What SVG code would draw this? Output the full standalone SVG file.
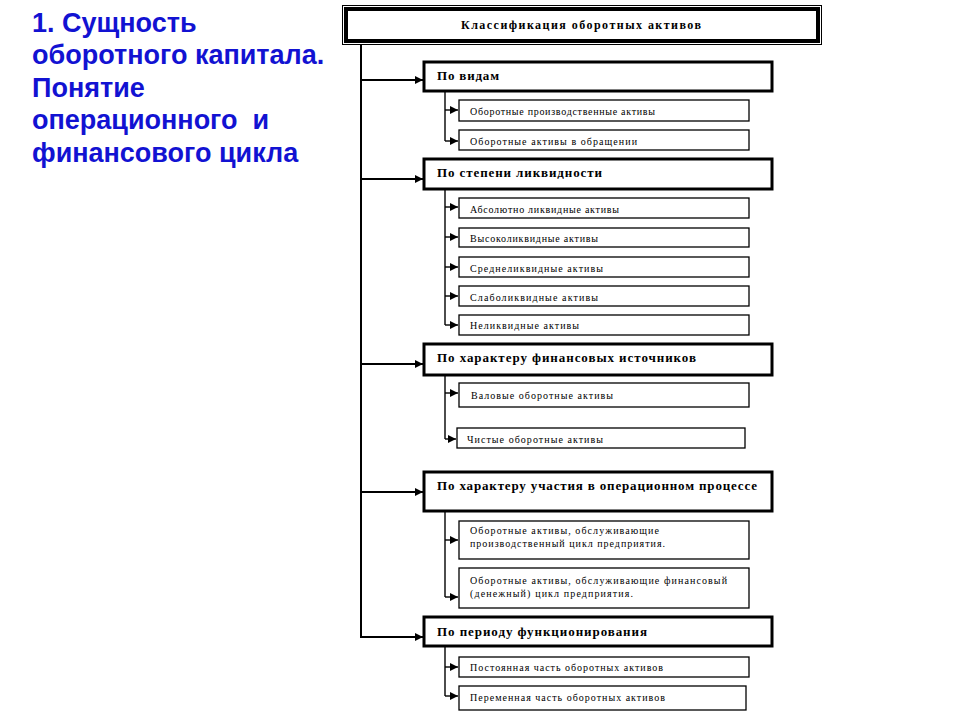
<svg xmlns="http://www.w3.org/2000/svg" width="960" height="720" viewBox="0 0 960 720">
<defs>
<style>
.title{font-family:"Liberation Sans",Arial,sans-serif;font-weight:bold;font-size:27px;fill:#1212D2;white-space:pre}
.hdr{font-family:"Liberation Serif","Times New Roman",serif;font-weight:bold;font-size:12px;fill:#000}
.cat{font-family:"Liberation Serif","Times New Roman",serif;font-weight:bold;font-size:13px;fill:#000}
.sub{font-family:"Liberation Serif","Times New Roman",serif;font-size:10px;fill:#000}
.catbox{fill:#fff;stroke:#000;stroke-width:3}
.subbox{fill:#fff;stroke:#000;stroke-width:1.3}
.trunk{fill:none;stroke:#000;stroke-width:2}
.st{fill:none;stroke:#000;stroke-width:1.4}
</style>
<marker id="ah" viewBox="0 0 10 10" refX="10" refY="5" markerWidth="9" markerHeight="8" markerUnits="userSpaceOnUse" orient="auto"><path d="M0,0 L10,5 L0,10 Z" fill="#000"/></marker>
<marker id="as" viewBox="0 0 10 10" refX="10" refY="5" markerWidth="8" markerHeight="8" markerUnits="userSpaceOnUse" orient="auto"><path d="M0,0 L10,5 L0,10 Z" fill="#000"/></marker>
</defs>
<rect width="960" height="720" fill="#fff"/>
<g id="title">
<text class="title" x="32" y="32">1. Сущность</text>
<text class="title" x="32" y="64">оборотного капитала.</text>
<text class="title" x="32" y="97">Понятие</text>
<text class="title" x="32" y="129" xml:space="preserve">операционного  и</text>
<text class="title" x="32" y="162">финансового цикла</text>
</g>
<g id="connectors">
<path class="trunk" d="M361,44 V637"/>
<path class="trunk" d="M361,80 H423" marker-end="url(#ah)"/>
<path class="trunk" d="M361,179 H423" marker-end="url(#ah)"/>
<path class="trunk" d="M361,364 H423" marker-end="url(#ah)"/>
<path class="trunk" d="M361,492 H423" marker-end="url(#ah)"/>
<path class="trunk" d="M360,637 H423" marker-end="url(#ah)"/>
<path class="st" d="M445,91 V141"/>
<path class="st" d="M445,110 H458" marker-end="url(#as)"/>
<path class="st" d="M445,141 H458" marker-end="url(#as)"/>
<path class="st" d="M445,189 V325"/>
<path class="st" d="M445,207 H458" marker-end="url(#as)"/>
<path class="st" d="M445,237 H458" marker-end="url(#as)"/>
<path class="st" d="M445,267 H458" marker-end="url(#as)"/>
<path class="st" d="M445,296 H458" marker-end="url(#as)"/>
<path class="st" d="M445,325 H458" marker-end="url(#as)"/>
<path class="st" d="M445,375 V439"/>
<path class="st" d="M445,393 H458" marker-end="url(#as)"/>
<path class="st" d="M445,439 H456" marker-end="url(#as)"/>
<path class="st" d="M445,511 V597"/>
<path class="st" d="M445,540 H458" marker-end="url(#as)"/>
<path class="st" d="M445,597 H458" marker-end="url(#as)"/>
<path class="st" d="M445,646 V696"/>
<path class="st" d="M445,667 H458" marker-end="url(#as)"/>
<path class="st" d="M445,696 H458" marker-end="url(#as)"/>
</g>
<g id="header">
<rect x="342.5" y="5.5" width="479" height="39" fill="#fff" stroke="#000" stroke-width="1"/>
<rect x="346" y="9" width="472" height="32" fill="#fff" stroke="#000" stroke-width="4"/>
<text class="hdr" x="461" y="29" textLength="240" lengthAdjust="spacing">Классификация оборотных активов</text>
</g>
<g id="cat1">
<rect class="catbox" x="424" y="62" width="348" height="29"/>
<text class="cat" x="437" y="80" textLength="62" lengthAdjust="spacing">По видам</text>
</g>
<g id="sub1a"><rect class="subbox" x="459" y="100" width="290" height="21"/><text class="sub" x="470" y="115" textLength="185" lengthAdjust="spacing">Оборотные производственные активы</text></g>
<g id="sub1b"><rect class="subbox" x="459" y="130" width="290" height="20"/><text class="sub" x="470" y="145" textLength="167" lengthAdjust="spacing">Оборотные активы в обращении</text></g>
<g id="cat2">
<rect class="catbox" x="424" y="159" width="348" height="30"/>
<text class="cat" x="437" y="177" textLength="165" lengthAdjust="spacing">По степени ликвидности</text>
</g>
<g id="sub2a"><rect class="subbox" x="459" y="198" width="290" height="20"/><text class="sub" x="470" y="213" textLength="149" lengthAdjust="spacing">Абсолютно ликвидные активы</text></g>
<g id="sub2b"><rect class="subbox" x="459" y="228" width="290" height="19"/><text class="sub" x="470" y="242" textLength="128" lengthAdjust="spacing">Высоколиквидные активы</text></g>
<g id="sub2c"><rect class="subbox" x="459" y="257" width="290" height="20"/><text class="sub" x="470" y="272" textLength="133" lengthAdjust="spacing">Среднеликвидные активы</text></g>
<g id="sub2d"><rect class="subbox" x="459" y="286" width="290" height="20"/><text class="sub" x="470" y="301" textLength="128" lengthAdjust="spacing">Слаболиквидные активы</text></g>
<g id="sub2e"><rect class="subbox" x="459" y="315" width="290" height="20"/><text class="sub" x="470" y="329" textLength="109" lengthAdjust="spacing">Неликвидные активы</text></g>
<g id="cat3">
<rect class="catbox" x="424" y="344" width="348" height="31"/>
<text class="cat" x="437" y="362" textLength="259" lengthAdjust="spacing">По характеру финансовых источников</text>
</g>
<g id="sub3a"><rect class="subbox" x="459" y="383" width="290" height="24"/><text class="sub" x="471" y="399" textLength="142" lengthAdjust="spacing">Валовые оборотные активы</text></g>
<g id="sub3b"><rect class="subbox" x="457" y="428" width="288" height="20"/><text class="sub" x="467" y="443" textLength="136" lengthAdjust="spacing">Чистые оборотные активы</text></g>
<g id="cat4">
<rect class="catbox" x="424" y="472" width="348" height="39"/>
<text class="cat" x="437" y="490" textLength="320" lengthAdjust="spacing">По характеру участия в операционном процессе</text>
</g>
<g id="sub4a"><rect class="subbox" x="459" y="521" width="290" height="38"/>
<text class="sub" x="470" y="534" textLength="189" lengthAdjust="spacing">Оборотные активы, обслуживающие</text>
<text class="sub" x="470" y="547" textLength="195" lengthAdjust="spacing">производственный цикл предприятия.</text></g>
<g id="sub4b"><rect class="subbox" x="459" y="568" width="290" height="40"/>
<text class="sub" x="470" y="584" textLength="257" lengthAdjust="spacing">Оборотные активы, обслуживающие финансовый</text>
<text class="sub" x="470" y="597" textLength="163" lengthAdjust="spacing">(денежный) цикл предприятия.</text></g>
<g id="cat5">
<rect class="catbox" x="424" y="617" width="348" height="29"/>
<text class="cat" x="437" y="636" textLength="210" lengthAdjust="spacing">По периоду функционирования</text>
</g>
<g id="sub5a"><rect class="subbox" x="459" y="657" width="290" height="20"/><text class="sub" x="470" y="671" textLength="193" lengthAdjust="spacing">Постоянная часть оборотных активов</text></g>
<g id="sub5b"><rect class="subbox" x="459" y="686" width="287" height="24"/><text class="sub" x="470" y="701" textLength="195" lengthAdjust="spacing">Переменная часть оборотных активов</text></g>
</svg>
